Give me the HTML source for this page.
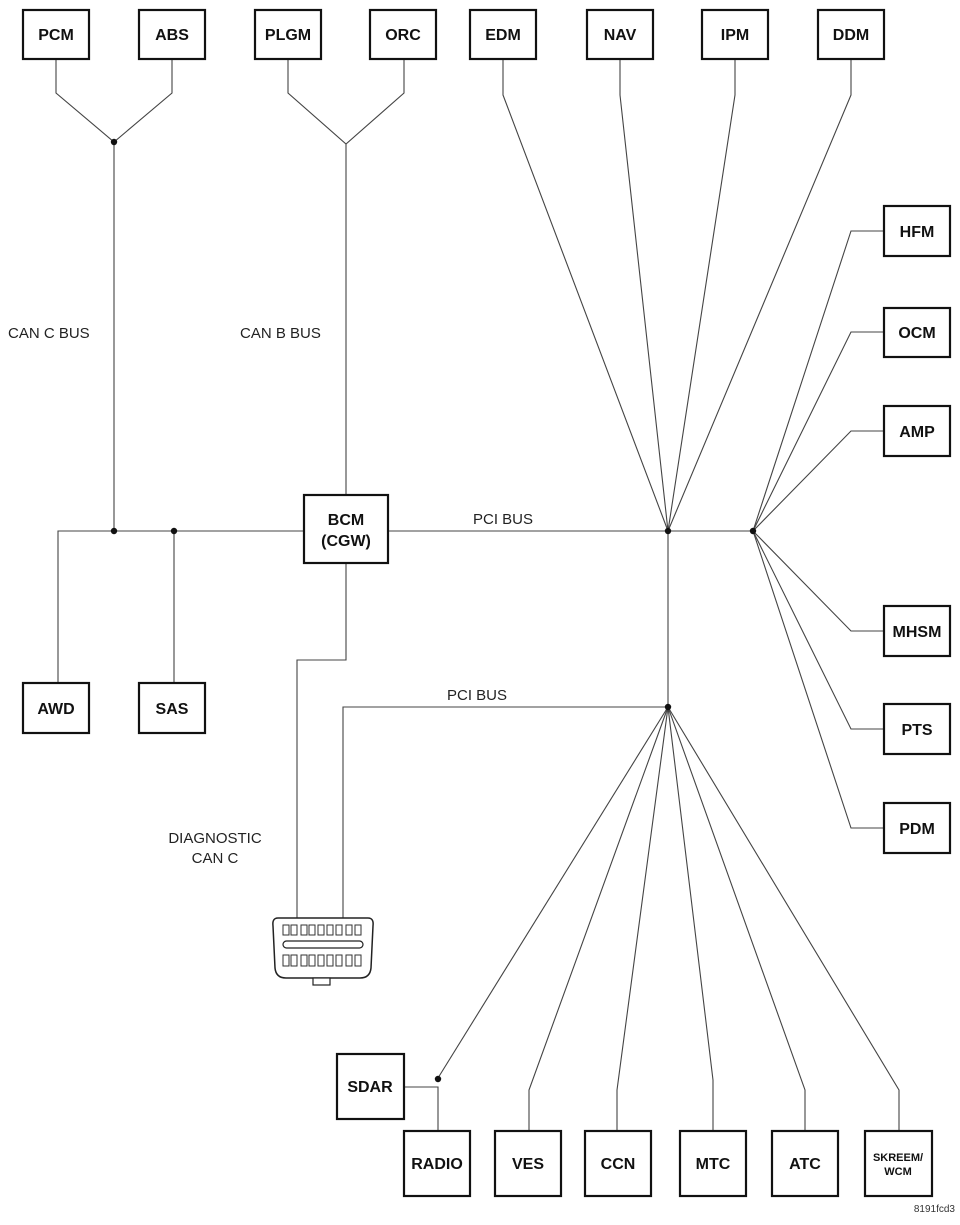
<!DOCTYPE html>
<html><head><style>
body{margin:0;background:#fff;}
svg{display:block;font-family:"Liberation Sans",Arial,sans-serif;}
.b{fill:#fff;stroke:#111;stroke-width:2.2}
.t{font-weight:bold;font-size:16px;text-anchor:middle;fill:#111}
.l{font-size:15px;fill:#222}
line,polyline{stroke:#444;stroke-width:1.1;fill:none}
</style></head><body>
<svg width="960" height="1225" viewBox="0 0 960 1225">
<!-- top left trees -->
<polyline points="56,59 56,93 114,142 172,93 172,59"/>
<line x1="114" y1="142" x2="114" y2="531"/>
<polyline points="288,59 288,93 346,144 404,93 404,59"/>
<line x1="346" y1="144" x2="346" y2="495"/>
<!-- main bus -->
<polyline points="58,683 58,531 304,531"/>
<line x1="174" y1="531" x2="174" y2="683"/>
<line x1="388" y1="531" x2="753" y2="531"/>
<!-- top right to hub -->
<polyline points="503,59 503,95 668,531"/>
<polyline points="620,59 620,95 668,531"/>
<polyline points="735,59 735,95 668,531"/>
<polyline points="851,59 851,95 668,531"/>
<!-- right boxes -->
<polyline points="884,231 851,231 753,531"/>
<polyline points="884,332 851,332 753,531"/>
<polyline points="884,431 851,431 753,531"/>
<polyline points="884,631 851,631 753,531"/>
<polyline points="884,729 851,729 753,531"/>
<polyline points="884,828 851,828 753,531"/>
<!-- diagnostic -->
<polyline points="346,563 346,660 297,660 297,918"/>
<polyline points="343,918 343,707 668,707"/>
<line x1="668" y1="531" x2="668" y2="707"/>
<!-- bottom fan -->
<line x1="668" y1="707" x2="438" y2="1078"/>
<polyline points="668,707 529,1090 529,1131"/>
<polyline points="668,707 617,1090 617,1131"/>
<polyline points="668,707 713,1080 713,1131"/>
<polyline points="668,707 805,1090 805,1131"/>
<polyline points="668,707 899,1090 899,1131"/>
<polyline points="404,1087 438,1087 438,1131"/>
<!-- dots -->
<g fill="#111"><circle cx="114" cy="142" r="3.2"/><circle cx="114" cy="531" r="3.2"/><circle cx="174" cy="531" r="3.2"/><circle cx="668" cy="531" r="3.2"/><circle cx="753" cy="531" r="3.2"/><circle cx="668" cy="707" r="3.2"/><circle cx="438" cy="1079" r="3.2"/></g>
<!-- boxes -->
<g>
<rect class="b" x="23" y="10" width="66" height="49"/><text class="t" x="56" y="40">PCM</text>
<rect class="b" x="139" y="10" width="66" height="49"/><text class="t" x="172" y="40">ABS</text>
<rect class="b" x="255" y="10" width="66" height="49"/><text class="t" x="288" y="40">PLGM</text>
<rect class="b" x="370" y="10" width="66" height="49"/><text class="t" x="403" y="40">ORC</text>
<rect class="b" x="470" y="10" width="66" height="49"/><text class="t" x="503" y="40">EDM</text>
<rect class="b" x="587" y="10" width="66" height="49"/><text class="t" x="620" y="40">NAV</text>
<rect class="b" x="702" y="10" width="66" height="49"/><text class="t" x="735" y="40">IPM</text>
<rect class="b" x="818" y="10" width="66" height="49"/><text class="t" x="851" y="40">DDM</text>
<rect class="b" x="884" y="206" width="66" height="50"/><text class="t" x="917" y="237">HFM</text>
<rect class="b" x="884" y="308" width="66" height="49"/><text class="t" x="917" y="338">OCM</text>
<rect class="b" x="884" y="406" width="66" height="50"/><text class="t" x="917" y="437">AMP</text>
<rect class="b" x="884" y="606" width="66" height="50"/><text class="t" x="917" y="637">MHSM</text>
<rect class="b" x="884" y="704" width="66" height="50"/><text class="t" x="917" y="735">PTS</text>
<rect class="b" x="884" y="803" width="66" height="50"/><text class="t" x="917" y="834">PDM</text>
<rect class="b" x="304" y="495" width="84" height="68"/><text class="t" x="346" y="525">BCM</text><text class="t" x="346" y="546">(CGW)</text>
<rect class="b" x="23" y="683" width="66" height="50"/><text class="t" x="56" y="714">AWD</text>
<rect class="b" x="139" y="683" width="66" height="50"/><text class="t" x="172" y="714">SAS</text>
<rect class="b" x="337" y="1054" width="67" height="65"/><text class="t" x="370" y="1092">SDAR</text>
<rect class="b" x="404" y="1131" width="66" height="65"/><text class="t" x="437" y="1169">RADIO</text>
<rect class="b" x="495" y="1131" width="66" height="65"/><text class="t" x="528" y="1169">VES</text>
<rect class="b" x="585" y="1131" width="66" height="65"/><text class="t" x="618" y="1169">CCN</text>
<rect class="b" x="680" y="1131" width="66" height="65"/><text class="t" x="713" y="1169">MTC</text>
<rect class="b" x="772" y="1131" width="66" height="65"/><text class="t" x="805" y="1169">ATC</text>
<rect class="b" x="865" y="1131" width="67" height="65"/><text class="t" x="898" y="1161" style="font-size:11px">SKREEM/</text><text class="t" x="898" y="1175" style="font-size:11px">WCM</text>
</g>
<!-- connector -->
<path d="M278,918 L368,918 Q374,918 373,926 L371,968 Q370,978 360,978 L286,978 Q276,978 275,968 L273,926 Q272,918 278,918 Z" fill="#fff" stroke="#222" stroke-width="1.5"/>
<rect x="313" y="978" width="17" height="7" fill="#fff" stroke="#222" stroke-width="1.2"/>
<rect x="283" y="941" width="80" height="7" rx="3.5" fill="#fff" stroke="#222" stroke-width="1.2"/>
<g fill="#fff" stroke="#333" stroke-width="1">
<rect x="283" y="925" width="6" height="10"/><rect x="291" y="925" width="6" height="10"/><rect x="301" y="925" width="6" height="10"/><rect x="309" y="925" width="6" height="10"/><rect x="318" y="925" width="6" height="10"/><rect x="327" y="925" width="6" height="10"/><rect x="336" y="925" width="6" height="10"/><rect x="346" y="925" width="6" height="10"/><rect x="355" y="925" width="6" height="10"/>
<rect x="283" y="955" width="6" height="11"/><rect x="291" y="955" width="6" height="11"/><rect x="301" y="955" width="6" height="11"/><rect x="309" y="955" width="6" height="11"/><rect x="318" y="955" width="6" height="11"/><rect x="327" y="955" width="6" height="11"/><rect x="336" y="955" width="6" height="11"/><rect x="346" y="955" width="6" height="11"/><rect x="355" y="955" width="6" height="11"/>
</g>
<!-- labels -->
<text class="l" x="8" y="338">CAN C BUS</text>
<text class="l" x="240" y="338">CAN B BUS</text>
<text class="l" x="473" y="524">PCI BUS</text>
<text class="l" x="447" y="700">PCI BUS</text>
<text class="l" x="215" y="843" text-anchor="middle">DIAGNOSTIC</text>
<text class="l" x="215" y="863" text-anchor="middle">CAN C</text>
<text x="955" y="1212" text-anchor="end" style="font-size:10px;fill:#333">8191fcd3</text>
</svg>
</body></html>
